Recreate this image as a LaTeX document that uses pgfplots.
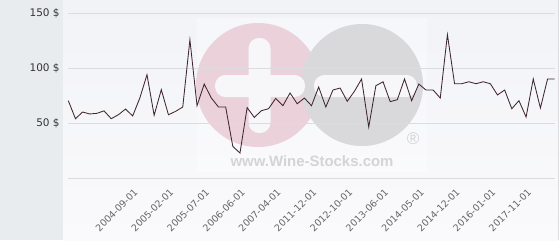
\documentclass[border=0pt]{standalone}
\usepackage{pgfplots}
\pgfplotsset{compat=1.18}
\usepackage{fontspec}
\setmainfont{DejaVu Sans}
\newfontfamily\wmfont{Liberation Sans}
\definecolor{panel}{HTML}{E8ECEF}
\definecolor{bgtop}{HTML}{F2F3F7}
\definecolor{bgbot}{HTML}{FAFAFC}
\definecolor{pinkc}{HTML}{EBD1D9}
\definecolor{grayc}{HTML}{D9D9DB}
\definecolor{barw}{HTML}{F7F7F9}
\definecolor{gridc}{HTML}{DCDCDE}
\definecolor{linec}{HTML}{3F2630}
\definecolor{wmtext}{HTML}{D4D4D6}
\pgfplotstableread{
x y
0 70.3
1 53.9
2 60
3 58.2
4 58.8
5 61
6 53.9
7 57.5
8 62.7
9 56.4
10 72.7
11 93.9
12 57
13 80.3
14 57.5
15 60.6
16 64.5
17 125.7
18 65.7
19 85.4
20 72.7
21 64.5
22 64.5
23 28.7
24 22.7
25 64
26 55.1
27 61.2
28 63
29 72.4
30 65.7
31 77.3
32 67.5
33 72.7
34 65.7
35 82.7
36 64.5
37 80
38 81.8
39 69.7
40 78.8
41 90
42 46.3
43 83.9
44 87.5
45 69.4
46 71.2
47 90
48 70.3
49 85.4
50 80
51 80
52 72.7
53 130.3
54 85.7
55 85.7
56 87.5
57 85.7
58 87.5
59 85.7
60 75.5
61 80
62 63
63 70.3
64 55.4
65 90
66 63.6
67 90
68 90
}\prices
\begin{document}
\begin{tikzpicture}[x=1bp,y=1bp]
% backgrounds
\fill[white] (0,0) rectangle (560,240);
\fill[panel] (0,0) rectangle (63,240);
\shade[top color=bgtop, bottom color=bgbot] (63,0) rectangle (558,240);
\draw[gridc, line width=0.8bp] (558,0) -- (558,240);
% watermark
\fill[white, opacity=0.3] (197,68) rectangle (427,222);
\fill[pinkc] (258,155) circle (62);
\fill[grayc] (362,155) circle (61);
\fill[barw, rounded corners=10.5] (248.5,107) rectangle (270.5,202);
\fill[barw, rounded corners=10.5] (215,143) rectangle (305,165);
\fill[barw, rounded corners=10.5] (314,143) rectangle (417,165);
\node[wmtext, font=\wmfont\bfseries\fontsize{15}{15}\selectfont, inner sep=0pt] at (312,79) {www.Wine-Stocks.com};
\node[wmtext, font=\wmfont\fontsize{17}{17}\selectfont, inner sep=0pt] at (413,101) {®};
\begin{axis}[
  at={(68.3bp,62bp)}, anchor=south west,
  scale only axis, width=486.4bp, height=165bp,
  xmin=0, xmax=68, ymin=0, ymax=150,
  axis line style={draw=none},
  major tick length=0pt,
  ytick={0,50,100,150},
  yticklabels={,50 \$,100 \$,150 \$},
  ymajorgrids,
  grid style={gridc, line width=0.8bp},
  xtick={8,13,18,23,28,33,38,43,48,53,58,63},
  xticklabels={2004-09-01,2005-02-01,2005-07-01,2006-06-01,2007-04-01,2011-12-01,2012-10-01,2013-06-01,2014-05-01,2014-12-01,2016-01-01,2017-11-01},
  yticklabel style={anchor=east, inner sep=0pt, xshift=-8.5bp, text=black!80, font=\fontsize{10.5}{12}\selectfont},
  xticklabel style={rotate=45, anchor=east, inner sep=0pt, xshift=-1.5bp, yshift=-16.5bp, text=black!60, font=\fontsize{9.5}{11}\selectfont},
  clip=false,
]
\addplot[linec, line width=0.85bp, mark=none] table[x=x, y=y] {\prices};
\end{axis}
\pgfresetboundingbox
\path[use as bounding box] (0,0) rectangle (560,240);
\end{tikzpicture}
\end{document}
